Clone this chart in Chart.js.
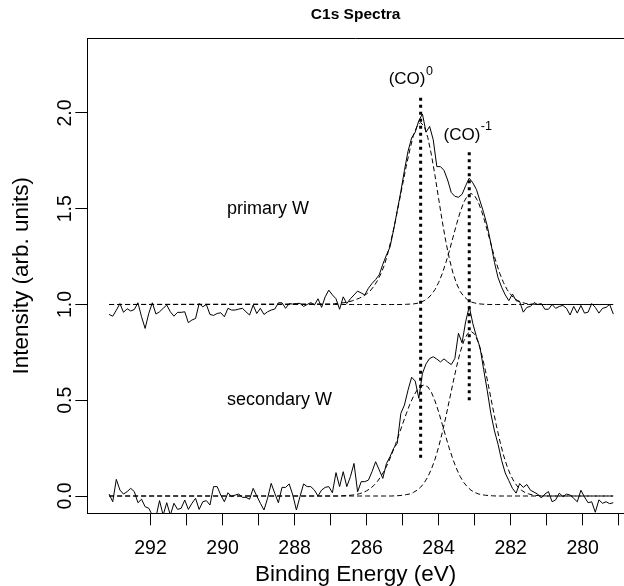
<!DOCTYPE html>
<html><head><meta charset="utf-8">
<script src="https://cdn.jsdelivr.net/npm/chart.js@4.4.1/dist/chart.umd.min.js"></script>
<style>html,body{margin:0;padding:0;background:#fff;overflow:hidden}#wrap{width:624px;height:586px}</style>
</head><body><div id="wrap"><canvas id="c" width="624" height="586"></canvas></div>
<script>
// ---------- DATA ----------
const energy = [
293.15,293.05,292.95,292.85,292.75,292.65,292.55,292.45,292.35,292.25,
292.15,292.05,291.95,291.85,291.75,291.65,291.55,291.45,291.35,291.25,
291.15,291.05,290.95,290.85,290.75,290.65,290.55,290.45,290.35,290.25,
290.15,290.05,289.95,289.85,289.75,289.65,289.55,289.45,289.35,289.25,
289.15,289.05,288.95,288.85,288.75,288.65,288.55,288.45,288.35,288.25,
288.15,288.05,287.95,287.85,287.75,287.65,287.55,287.45,287.35,287.25,
287.15,287.05,286.95,286.85,286.75,286.65,286.55,286.45,286.35,286.25,
286.15,286.05,285.95,285.85,285.75,285.65,285.55,285.45,285.35,285.25,
285.15,285.05,284.95,284.85,284.75,284.65,284.55,284.45,284.35,284.25,
284.15,284.05,283.95,283.85,283.75,283.65,283.55,283.45,283.35,283.25,
283.15,283.05,282.95,282.85,282.75,282.65,282.55,282.45,282.35,282.25,
282.15,282.05,281.95,281.85,281.75,281.65,281.55,281.45,281.35,281.25,
281.15,281.05,280.95,280.85,280.75,280.65,280.55,280.45,280.35,280.25,
280.15,280.05,279.95,279.85,279.75,279.65,279.55,279.45,279.35,279.25,
279.15];

const primaryW = [
0.948,0.939,0.97,1.005,0.959,0.978,0.966,0.974,1.009,0.936,
0.875,0.953,1.009,0.95,0.962,0.98,0.997,0.962,0.939,0.959,
0.959,0.962,0.905,0.919,0.927,1.005,0.988,1.0,0.948,0.943,
0.953,0.957,0.936,0.98,0.971,0.971,0.976,0.98,0.962,0.945,
0.997,0.953,0.98,0.948,0.962,0.971,0.976,1.009,1.009,0.98,
1.005,1.002,1.005,
1.006,0.99,1.0,1.01,0.997,1.03,0.985,1.04,1.075,1.05,
1.03,0.975,1.04,1.005,1.03,1.05,1.07,1.06,1.05,1.085,
1.11,1.13,1.155,1.21,1.258,1.30,1.39,1.49,1.59,1.70,
1.80,1.87,1.90,1.96,1.995,1.90,1.93,1.86,1.72,1.72,
1.70,1.65,1.585,1.565,1.56,1.575,1.62,1.66,1.635,1.60,
1.54,1.48,1.41,1.32,1.22,1.14,
1.09,1.05,1.02,1.055,1.02,1.015,0.96,0.985,0.99,1.01,
1.0,1.005,0.975,0.975,1.0,0.98,0.99,0.995,0.98,0.945,
0.99,0.955,0.995,0.955,0.96,1.005,0.985,0.955,0.98,0.985,
1.0,0.95];

const secondaryW = [
0.010,-0.030,0.087,0.031,0.010,0.023,0.040,0.023,-0.035,-0.017,
-0.056,-0.064,-0.10,-0.11,-0.024,-0.10,-0.035,-0.10,-0.038,-0.070,
-0.064,-0.021,-0.070,-0.038,-0.012,-0.070,-0.030,-0.024,-0.047,0.049,
0.049,0.005,-0.030,0.017,-0.003,0.005,0.010,-0.007,-0.007,-0.017,
0.040,0.0,-0.038,-0.073,-0.012,0.066,0.014,-0.035,0.045,0.045,
0.063,0.005,-0.073,-0.003,0.063,0.049,0.049,0.031,0.0,0.031,
0.045,0.049,0.017,0.122,0.049,
0.127,0.049,0.101,0.170,0.022,0.075,0.075,0.083,0.127,0.179,
0.136,0.092,0.170,0.205,0.249,0.275,0.431,0.475,0.553,0.620,
0.600,0.510,0.640,0.690,0.718,0.727,0.715,0.700,0.716,0.700,
0.686,0.718,0.850,0.800,0.910,0.990,0.900,0.832,0.775,0.660,
0.550,0.430,0.340,0.270,0.185,0.120,0.080,
0.04,0.015,0.065,0.045,0.06,0.03,0.02,0.01,-0.01,0.01,
0.023,-0.03,-0.02,0.015,-0.003,0.01,0.005,-0.012,-0.03,0.03,
-0.005,-0.035,-0.03,-0.085,-0.02,-0.038,-0.03,-0.04,-0.035];

const fitEnergy = [293.15,
287.0,286.9,286.8,286.7,286.6,286.5,286.4,286.3,286.2,286.1,
286.0,285.9,285.8,285.7,285.6,285.5,285.4,285.3,285.2,285.1,
285.0,284.9,284.8,284.7,284.6,284.5,284.4,284.3,284.2,284.1,
284.0,283.9,283.8,283.7,283.6,283.5,283.4,283.3,283.2,283.1,
283.0,282.9,282.8,282.7,282.6,282.5,282.4,282.3,282.2,282.1,
282.0,281.9,281.8,281.7,281.6,281.5,281.4,281.3,281.2,281.1,
281.0, 279.15];

const fitPrimaryCO0 = [1.0,
1.003,1.004,1.006,1.008,1.010,1.014,1.019,1.026,1.033,1.043,
1.055,1.071,1.095,1.124,1.162,1.209,1.276,1.352,1.437,1.532,
1.627,1.722,1.808,1.884,1.931,1.95,1.930,1.871,1.781,1.672,
1.552,1.435,1.328,1.237,1.163,1.108,1.068,1.042,1.025,1.013,
1.008,1.004,1.002,1.001,1,1,1,1,1,1,
1,1,1,1,1,1,1,1,1,1,
1, 1.0];

const fitPrimaryCO1 = [1.0,
1,1,1,1,1,1,1,1,1,1,
1,1,1,1,1,1,1,1,1,1,
1,1.001,1.002,1.003,1.006,1.012,1.020,1.032,1.052,1.078,
1.115,1.161,1.218,1.282,1.352,1.421,1.484,1.535,1.568,1.58,
1.568,1.535,1.484,1.421,1.352,1.282,1.218,1.161,1.115,1.078,
1.052,1.032,1.020,1.012,1.006,1.003,1.002,1.001,1,1,
1, 1.0];

const fitSecondaryCO0 = [0,
0,0,0,0.001,0.002,0.003,0.005,0.0075,0.012,0.018,
0.027,0.039,0.055,0.076,0.103,0.135,0.174,0.219,0.269,0.322,
0.376,0.429,0.479,0.520,0.553,0.573,0.58,0.570,0.541,0.496,
0.439,0.375,0.309,0.246,0.190,0.141,0.101,0.070,0.047,0.030,
0.019,0.011,0.007,0.004,0.002,0.001,0,0,0,0,
0,0,0,0,0,0,0,0,0,0,
0, 0];

const fitSecondaryCO1 = [0,
0,0,0,0,0,0,0,0,0,0,
0,0,0,0,0,0,0,0,0.001,0.002,
0.004,0.007,0.011,0.019,0.030,0.046,0.069,0.100,0.141,0.192,
0.256,0.330,0.413,0.502,0.592,0.677,0.752,0.810,0.847,0.86,
0.845,0.803,0.737,0.654,0.560,0.464,0.371,0.287,0.214,0.155,
0.108,0.073,0.047,0.030,0.018,0.011,0.006,0.003,0.002,0.001,
0, 0];

const markerEnergy = [284.5, 283.15];
const markerLow = [0.2, 0.5];
const markerHigh = [2.1, 1.8];
const markerLabelBase = ['(CO)', '(CO)'];
const markerLabelSup = ['0', '-1'];
const markerLabelX = [284.78, 283.2];
const markerLabelY = [2.175, 1.885];

const sampleLabels = ['primary W', 'secondary W'];
const sampleLabelX = [289.88, 289.88];
const sampleLabelY = [1.5, 0.5];

const xTickValues = [292,291,290,289,288,287,286,285,284,283,282,281,280,279];
const xLabelValues = [292,290,288,286,284,282,280];
const yTickValues = [0, 0.5, 1.0, 1.5, 2.0];

const chartTitle = 'C1s Spectra';
const xTitle = 'Binding Energy (eV)';
const yTitle = 'Intensity (arb. units)';

// ---------- RENDER ----------
const FONT = "'Liberation Sans', Arial, Helvetica, sans-serif";
const pairs = (xs, ys) => xs.map((x, i) => ({x: x, y: ys[i]}));
const solid = {borderColor: '#000', borderWidth: 1, pointRadius: 0, tension: 0, fill: false, clip: 0};
const dashed = {borderColor: '#000', borderWidth: 1, borderDash: [5, 3], pointRadius: 0, tension: 0, fill: false, clip: 0};
const dotted = {borderColor: '#000', borderWidth: 3, borderDash: [3, 4], borderCapStyle: 'butt', pointRadius: 0, fill: false, clip: 0};

const datasets = [
  Object.assign({}, dashed, {data: pairs(fitEnergy, fitPrimaryCO0)}),
  Object.assign({}, dashed, {data: pairs(fitEnergy, fitPrimaryCO1)}),
  Object.assign({}, dashed, {data: pairs(fitEnergy, fitSecondaryCO0)}),
  Object.assign({}, dashed, {data: pairs(fitEnergy, fitSecondaryCO1)}),
  Object.assign({}, solid, {data: pairs(energy, primaryW)}),
  Object.assign({}, solid, {data: pairs(energy, secondaryW)})
];
markerEnergy.forEach((e, i) => {
  datasets.push(Object.assign({}, dotted, {data: [{x: e, y: markerLow[i]}, {x: e, y: markerHigh[i]}]}));
});

const decor = {
  id: 'decor',
  afterDraw(chart) {
    const {ctx, chartArea: ca, scales: {x, y}} = chart;
    ctx.save();
    ctx.fillStyle = '#000';
    ctx.strokeStyle = '#000';
    // top border of the box
    ctx.lineWidth = 1;
    ctx.beginPath();
    ctx.moveTo(ca.left, Math.round(ca.top) + 0.5);
    ctx.lineTo(ca.right, Math.round(ca.top) + 0.5);
    ctx.stroke();
    // y tick labels (rotated, as in base R)
    ctx.font = '19.5px ' + FONT;
    ctx.textAlign = 'center';
    ctx.textBaseline = 'middle';
    yTickValues.forEach(v => {
      ctx.save();
      ctx.translate(ca.left - 21.5, y.getPixelForValue(v));
      ctx.rotate(-Math.PI / 2);
      ctx.fillText(v.toFixed(1), 0, 0);
      ctx.restore();
    });
    // sample labels
    ctx.font = '18px ' + FONT;
    ctx.textAlign = 'left';
    sampleLabels.forEach((t, i) => {
      ctx.fillText(t, x.getPixelForValue(sampleLabelX[i]), y.getPixelForValue(sampleLabelY[i]));
    });
    // (CO) labels with superscripts
    markerLabelBase.forEach((t, i) => {
      ctx.font = '17px ' + FONT;
      const wb = ctx.measureText(t).width;
      ctx.font = '12.5px ' + FONT;
      const ws = ctx.measureText(markerLabelSup[i]).width;
      const cx = x.getPixelForValue(markerLabelX[i]);
      const cy = y.getPixelForValue(markerLabelY[i]);
      const x0 = cx - (wb + ws) / 2;
      ctx.textAlign = 'left';
      ctx.font = '17px ' + FONT;
      ctx.fillText(t, x0, cy);
      ctx.font = '12.5px ' + FONT;
      ctx.fillText(markerLabelSup[i], x0 + wb + 0.5, cy - 8);
    });
    ctx.restore();
  }
};

new Chart(document.getElementById('c'), {
  type: 'line',
  data: {datasets: datasets},
  plugins: [decor],
  options: {
    responsive: false,
    animation: false,
    devicePixelRatio: 1,
    layout: {padding: 0},
    plugins: {
      legend: {display: false},
      tooltip: {enabled: false},
      title: {
        display: true, text: chartTitle, fullSize: false, color: '#000',
        font: {family: FONT, size: 15.5, weight: 'bold', lineHeight: 1.2},
        padding: {top: 5.5, bottom: 14.2}
      }
    },
    scales: {
      x: {
        type: 'linear', reverse: true, min: 278.853, max: 293.756,
        afterBuildTicks: s => { s.ticks = xTickValues.map(v => ({value: v})); },
        afterFit: s => { s.height = 72.7; s.paddingLeft = 0; s.paddingRight = 0; },
        ticks: {
          autoSkip: false, maxRotation: 0, color: '#000', padding: 14,
          font: {family: FONT, size: 19.5, lineHeight: 1},
          callback: v => (xLabelValues.includes(v) ? String(v) : '')
        },
        grid: {drawOnChartArea: false, drawTicks: true, tickLength: 12, color: '#000', lineWidth: 1},
        border: {display: true, color: '#000', width: 1},
        title: {display: true, text: xTitle, color: '#000', font: {family: FONT, size: 22.5, lineHeight: 1}, padding: {top: 0, bottom: 0}}
      },
      y: {
        type: 'linear', min: -0.0903, max: 2.39,
        afterBuildTicks: s => { s.ticks = yTickValues.map(v => ({value: v})); },
        afterFit: s => { s.width = 87.3; s.paddingTop = 0; s.paddingBottom = 0; },
        ticks: {display: false},
        grid: {drawOnChartArea: false, drawTicks: true, tickLength: 12, color: '#000', lineWidth: 1},
        border: {display: true, color: '#000', width: 1},
        title: {display: true, text: yTitle, color: '#000', font: {family: FONT, size: 22.5, lineHeight: 1}, padding: {top: 11, bottom: 0}}
      }
    }
  }
});
</script>
</body></html>
